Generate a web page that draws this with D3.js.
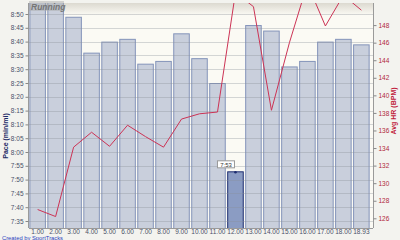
<!DOCTYPE html>
<html><head><meta charset="utf-8">
<script src="https://cdn.jsdelivr.net/npm/d3@7"></script>
<style>html,body{margin:0;padding:0;background:#f3f3ef;}svg{display:block;}</style>
</head><body>
<svg id="c" width="400" height="240"></svg>
<script>
// Data
const categories = ["1.00","2.00","3.00","4.00","5.00","6.00","7.00","8.00","9.00","10.00","11.00","12.00","13.00","14.00","15.00","16.00","17.00","18.00","18.93"];
// pace in seconds per mile
const paceSec = [538,536,529,516,520,521,512,513,523,514,505,473,526,524,511,513,520,521,519];
const avgHR = [127.0,126.2,134.1,135.8,134.2,136.6,135.3,134.1,137.3,137.9,138.1,151.7,150.1,138.3,146.0,152.7,147.9,151.4,149.7];
const paceTicks = [455,460,465,470,475,480,485,490,495,500,505,510,515,520,525,530];
const hrTicks = [126,128,130,132,134,136,138,140,142,144,146,148];
const highlightIndex = 11;
const highlightLabel = "7:53";
const title = "Running";

const svg = d3.select("#c");
const L = 29, R = 373, T = 3, B = 228;
const font = "Liberation Sans, Arial, sans-serif";

const defs = svg.append("defs");
const g1 = defs.append("linearGradient").attr("id","topg").attr("x1",0).attr("x2",0).attr("y1",0).attr("y2",1);
g1.append("stop").attr("offset","0%").attr("stop-color","#dcd9d0");
g1.append("stop").attr("offset","100%").attr("stop-color","#fbfaf4");
defs.append("clipPath").attr("id","clip").append("rect").attr("x",L).attr("y",T).attr("width",R-L).attr("height",B-T);

const x = d3.scaleBand().domain(categories).range([L, 370]).paddingInner(0.08).paddingOuter(0.02);
const y = d3.scaleLinear().domain([455,530]).range([221,14]);
const yHR = d3.scaleLinear().domain([126,148]).range([218.3,25.1]);
const fmtPace = s => Math.floor(s/60) + ":" + String(Math.round(s%60)).padStart(2,"0");

// plot background
svg.append("rect").attr("x",L).attr("y",T).attr("width",R-L).attr("height",B-T).attr("fill","#fbfaf4");
svg.append("rect").attr("x",L).attr("y",T).attr("width",R-L).attr("height",12).attr("fill","url(#topg)");

const plot = svg.append("g").attr("clip-path","url(#clip)");

// bars
plot.selectAll("rect.bar").data(paceSec).join("rect")
  .attr("class","bar")
  .attr("x",(d,i)=>x(categories[i])+0.5)
  .attr("y",d=>y(d)+0.5)
  .attr("width",x.bandwidth()-1)
  .attr("height",d=>B - y(d))
  .attr("fill",(d,i)=> i===highlightIndex ? "#8b9cc3" : "#c9cfdc")
  .attr("stroke",(d,i)=> i===highlightIndex ? "#1d2d70" : "#8494ba")
  .attr("stroke-width",1);

// gridlines
plot.selectAll("line.grid").data(paceTicks).join("line")
  .attr("x1",L).attr("x2",R)
  .attr("y1",d=>Math.round(y(d))+0.5).attr("y2",d=>Math.round(y(d))+0.5)
  .attr("stroke","#8a8f99").attr("stroke-opacity",0.35).attr("stroke-width",1);

// HR line
const line = d3.line().x((d,i)=>x(categories[i])+x.bandwidth()/2).y(d=>yHR(d));
plot.append("path").datum(avgHR).attr("d",line).attr("fill","none").attr("stroke","#cc3355").attr("stroke-width",1);

// axes lines
svg.append("line").attr("x1",L-0.5).attr("x2",L-0.5).attr("y1",T).attr("y2",B).attr("stroke","#9a9a9a");
svg.append("line").attr("x1",R+0.5).attr("x2",R+0.5).attr("y1",T).attr("y2",B).attr("stroke","#9a9a9a");
svg.append("line").attr("x1",L).attr("x2",R).attr("y1",B+0.5).attr("y2",B+0.5).attr("stroke","#9a9a9a");

// left axis
const ax = d3.axisLeft(y).tickValues(paceTicks).tickFormat(fmtPace).tickSize(3).tickPadding(2);
const gl = svg.append("g").attr("transform",`translate(${L-0.5},0)`).call(ax);
gl.select(".domain").remove();
gl.selectAll("line").attr("stroke","#888");
gl.selectAll("text").attr("font-family",font).attr("font-size","6.5px").attr("fill","#4a5068");

// right axis
const axr = d3.axisRight(yHR).tickValues(hrTicks).tickSize(3).tickPadding(2);
const gr = svg.append("g").attr("transform",`translate(${R+0.5},0)`).call(axr);
gr.select(".domain").remove();
gr.selectAll("line").attr("stroke","#888");
gr.selectAll("text").attr("font-family",font).attr("font-size","6.5px").attr("fill","#b0283c");

// bottom axis
const axb = d3.axisBottom(x).tickSize(0).tickPadding(1);
const gb = svg.append("g").attr("transform",`translate(0,${B})`).call(axb);
gb.select(".domain").remove();
gb.selectAll("text").attr("font-family",font).attr("font-size","6.5px").attr("fill","#4a5068");

// axis titles
svg.append("text").attr("transform","translate(8,136) rotate(-90)").attr("text-anchor","middle")
  .attr("font-family",font).attr("font-size","7px").attr("font-weight","bold").attr("fill","#1c2a66").text("Pace (min/mi)");
svg.append("text").attr("transform","translate(396,111) rotate(-90)").attr("text-anchor","middle")
  .attr("font-family",font).attr("font-size","7px").attr("font-weight","bold").attr("fill","#c0203a").text("Avg HR (BPM)");

// title box
svg.append("rect").attr("x",L).attr("y",1).attr("width",35).attr("height",10).attr("fill","#a8a8a8").attr("fill-opacity",0.45);
svg.append("text").attr("x",L+2).attr("y",9.5).attr("font-family",font).attr("font-size","8.5px")
  .attr("font-weight","bold").attr("font-style","italic").attr("fill","#767676").text(title);

// highlight marker and label
const hx = x(categories[highlightIndex]) + x.bandwidth()/2;
const hy = y(paceSec[highlightIndex]);
svg.append("circle").attr("cx",hx).attr("cy",hy+1).attr("r",1.3).attr("fill","#1d2d70");
svg.append("rect").attr("x",hx-18).attr("y",hy-10.5).attr("width",17).attr("height",7).attr("fill","#ffffff").attr("stroke","#999");
svg.append("text").attr("x",hx-9.5).attr("y",hy-4.7).attr("text-anchor","middle").attr("font-family",font)
  .attr("font-size","6px").attr("fill","#333").text(highlightLabel);

// credit
svg.append("text").attr("x",2).attr("y",239.5).attr("font-family",font).attr("font-size","5.8px").attr("fill","#2b3fc0").text("Created by SportTracks");
</script>
</body></html>
